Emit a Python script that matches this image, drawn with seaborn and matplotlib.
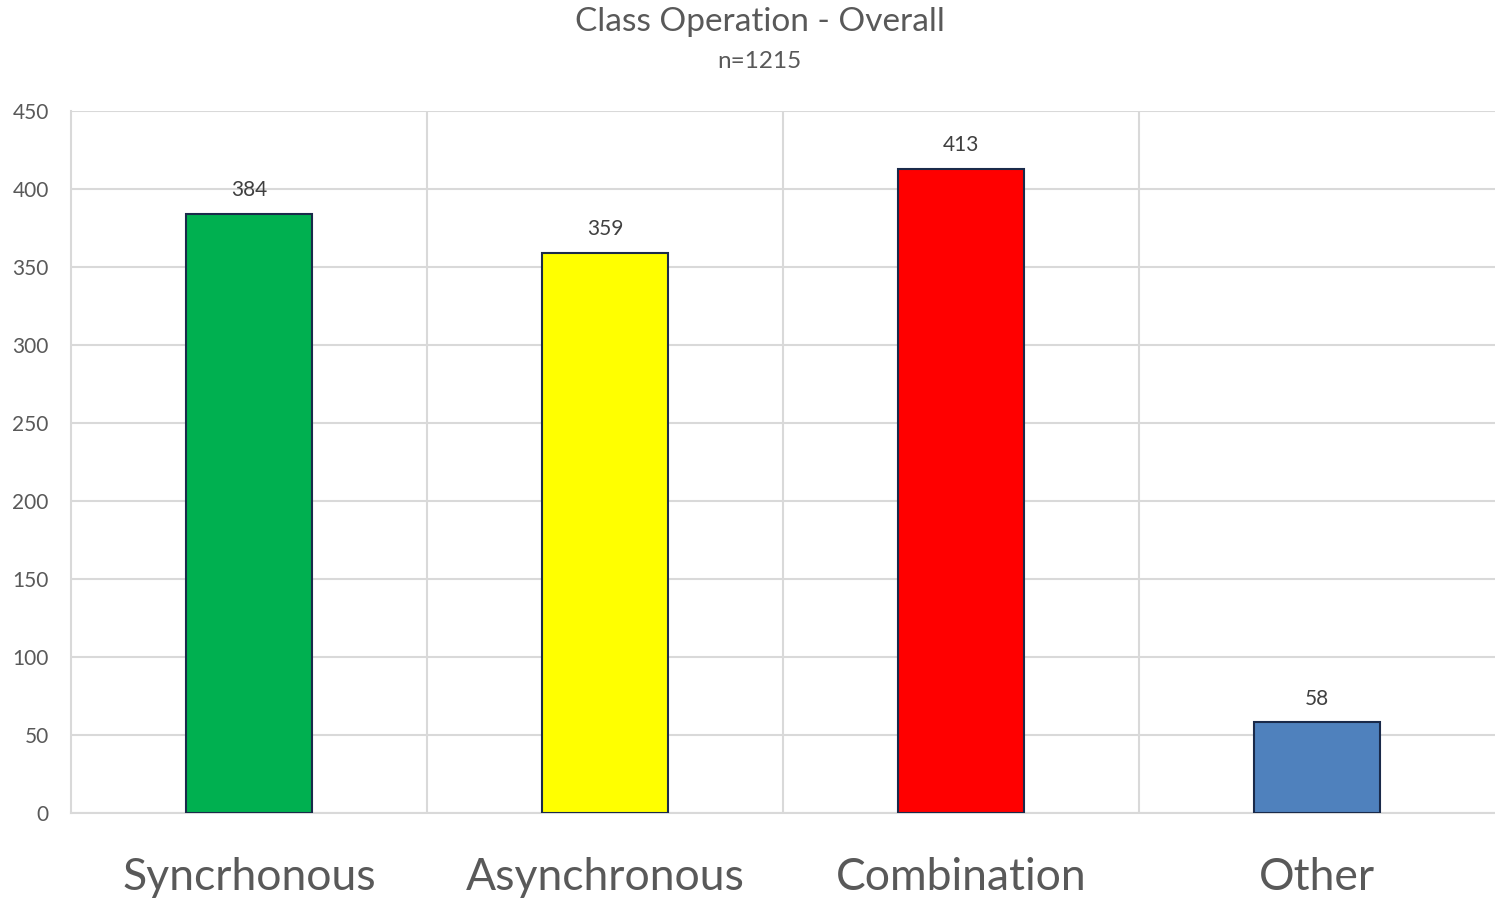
import matplotlib
matplotlib.use('Agg')
import matplotlib.pyplot as plt
import seaborn as sns
import pandas as pd

# data
categories = ['Syncrhonous', 'Asynchronous', 'Combination', 'Other']
counts = [384, 359, 413, 58]
bar_colors = ['#00b050', '#ffff00', '#ff0000', '#4f81bd']

df = pd.DataFrame({'category': categories, 'count': counts})

sns.set_theme(style='white')
plt.rcParams['font.family'] = ['Lato', 'DejaVu Sans']

text_col = '#595959'
grid_col = '#d9d9d9'

fig = plt.figure(figsize=(14.95, 8.98), dpi=100)
ax = fig.add_axes([0.0475, 0.0947, 0.9525, 0.7817])

sns.barplot(data=df, x='category', y='count', hue='category', palette=bar_colors,
            saturation=1, width=0.355, edgecolor='#1a2a4a', linewidth=1.5,
            legend=False, ax=ax, zorder=3)

ax.set_ylim(0, 450)
ax.set_xlim(-0.5, 3.5)
ax.set_yticks(range(0, 451, 50))
ax.yaxis.grid(True, color=grid_col, linewidth=1.5, zorder=0)
# vertical separators between categories
for xb in [0.5, 1.5, 2.5]:
    ax.axvline(xb, color=grid_col, linewidth=1.5, zorder=0)

for s in ['top', 'right']:
    ax.spines[s].set_visible(False)
ax.spines['left'].set_color(grid_col)
ax.spines['left'].set_linewidth(1.5)
ax.spines['bottom'].set_color(grid_col)
ax.spines['bottom'].set_linewidth(1.5)

ax.set_xlabel('')
ax.set_ylabel('')
ax.tick_params(axis='y', length=0, pad=16, labelsize=15, labelcolor=text_col)
ax.tick_params(axis='x', length=0, pad=32, labelsize=32, labelcolor=text_col)

for i, v in enumerate(counts):
    ax.annotate(str(v), (i, v), xytext=(0, 10), textcoords='offset points',
                ha='center', va='bottom', fontsize=15, color='#404040')

fig.text(0.508, 0.976, 'Class Operation - Overall', ha='center', va='center',
         fontsize=24, color=text_col)
fig.text(0.508, 0.931, 'n=1215', ha='center', va='center', fontsize=17.5, color=text_col)

fig.savefig('out.png', dpi=100)
